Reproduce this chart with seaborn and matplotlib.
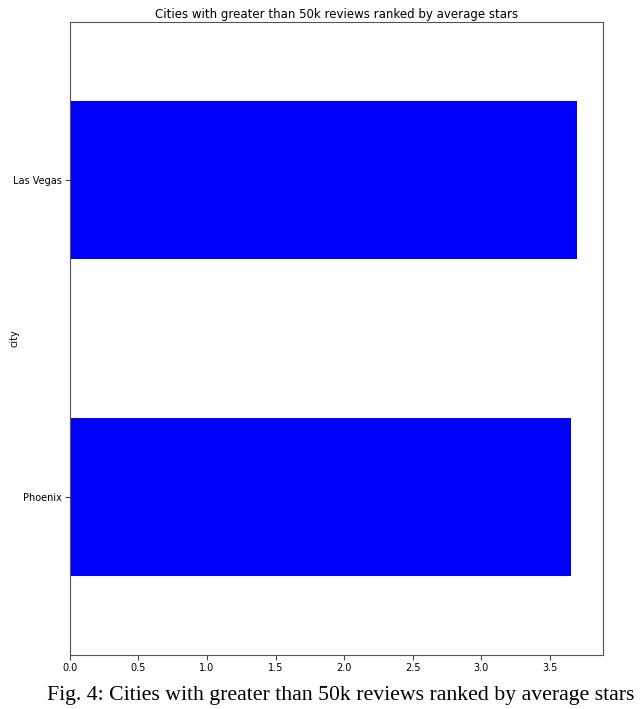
import pandas as pd
import matplotlib.pyplot as plt
import seaborn as sns

# Data
cities = ['Las Vegas', 'Phoenix']
avg_stars = [3.70, 3.65]

df = pd.DataFrame({'city': cities, 'stars': avg_stars})

fig = plt.figure(figsize=(6.4, 7.09), dpi=100)
ax = fig.add_axes([0.109, 0.0762, 0.833, 0.893])

sns.barplot(data=df, x='stars', y='city', order=cities, orient='h',
            color='#0000ff', saturation=1, width=0.5, ax=ax)

ax.set_xlim(0, max(avg_stars) * 1.05)
ax.set_ylim(1.5, -0.5)
ax.set_xticks([0.0, 0.5, 1.0, 1.5, 2.0, 2.5, 3.0, 3.5])
ax.set_xticklabels([f'{t:.1f}' for t in ax.get_xticks()])
ax.tick_params(labelsize=7, color='#444', pad=2.5)
ax.set_xlabel('')
ax.set_ylabel('city', fontsize=7)
ax.yaxis.set_label_coords(-0.095, 0.5)
ax.set_title('Cities with greater than 50k reviews ranked by average stars', fontsize=8.5, pad=3)
for s in ax.spines.values():
    s.set_color('#555')

fig.text(0.533, 0.0197, 'Fig. 4: Cities with greater than 50k reviews ranked by average stars',
         ha='center', va='center', fontsize=15.7, family='Liberation Serif')

fig.savefig('out.png', dpi=100)
